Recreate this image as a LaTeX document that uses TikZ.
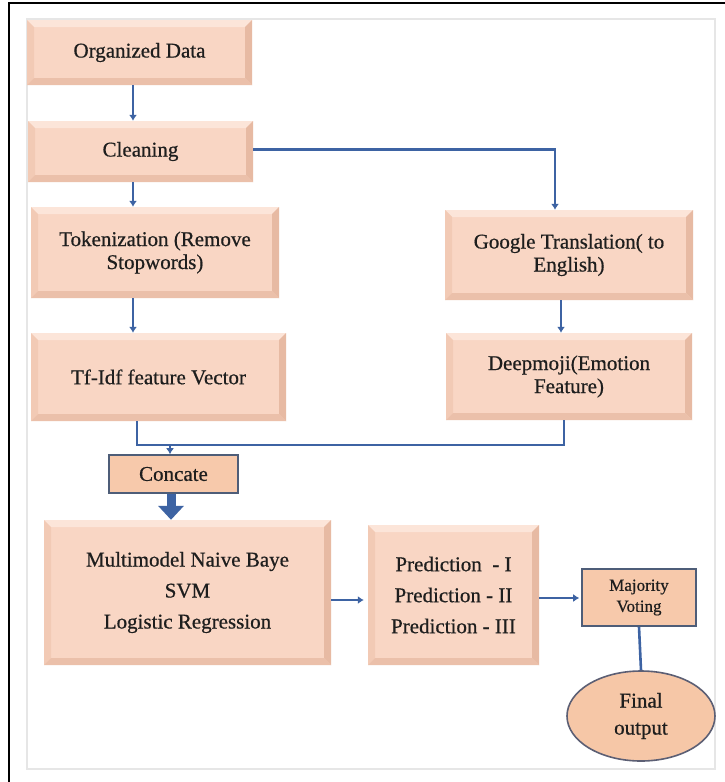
\documentclass[tikz,border=0pt]{standalone}
\usepackage{fontspec}
\setmainfont{Liberation Serif}
\newfontfamily\tnr{Liberation Serif}[FakeBold=0.6]
\usetikzlibrary{arrows.meta,shapes.geometric,calc}
\definecolor{peach}{HTML}{F9D6C4}
\definecolor{bvtop}{HTML}{FCE5D9}
\definecolor{bvleft}{HTML}{F2CAB5}
\definecolor{bvright}{HTML}{E7BAA3}
\definecolor{bvbot}{HTML}{EBC0AA}
\definecolor{flatfill}{HTML}{F7C9AB}
\definecolor{flatedge}{HTML}{4E5D78}
\definecolor{ellfill}{HTML}{F6C7A7}
\definecolor{elledge}{HTML}{5C5F74}
\definecolor{txt}{HTML}{1E1E1E}
\definecolor{conn}{HTML}{3D63A3}
\definecolor{faint}{HTML}{E6E6E6}
\newcommand{\bigtxt}{\tnr\fontsize{21}{23}\selectfont}
\tikzset{
  bev/.style={fill=peach, inner sep=0pt, align=center, font=\bigtxt, text=txt,
    path picture={
      \fill[bvtop] (path picture bounding box.north west) -- (path picture bounding box.north east)
        -- ([xshift=-7pt,yshift=-7pt]path picture bounding box.north east)
        -- ([xshift=7pt,yshift=-7pt]path picture bounding box.north west) -- cycle;
      \fill[bvleft] (path picture bounding box.north west) -- (path picture bounding box.south west)
        -- ([xshift=7pt,yshift=7pt]path picture bounding box.south west)
        -- ([xshift=7pt,yshift=-7pt]path picture bounding box.north west) -- cycle;
      \fill[bvright] (path picture bounding box.north east) -- (path picture bounding box.south east)
        -- ([xshift=-7pt,yshift=7pt]path picture bounding box.south east)
        -- ([xshift=-7pt,yshift=-7pt]path picture bounding box.north east) -- cycle;
      \fill[bvbot] (path picture bounding box.south west) -- (path picture bounding box.south east)
        -- ([xshift=-7pt,yshift=7pt]path picture bounding box.south east)
        -- ([xshift=7pt,yshift=7pt]path picture bounding box.south west) -- cycle;
    }},
  flatbox/.style={fill=flatfill, draw=flatedge, line width=1.6pt, inner sep=0pt, align=center, text=txt},
  finalell/.style={ellipse, fill=ellfill, draw=elledge, line width=1.6pt, inner sep=0pt, align=center, text=txt,
    font=\tnr\fontsize{21}{27}\selectfont},
  conline/.style={draw=conn, line width=2.6pt},
  arr/.style={conline, -{Latex[length=6pt,width=8pt]}},
  bigarr/.style={draw=conn, line width=9pt, -{Triangle[length=14pt,width=25pt]}}
}
\begin{document}
\begin{tikzpicture}[x=1pt,y=-1pt]
\useasboundingbox (0,0) rectangle (725,782);
\fill[white] (0,0) rectangle (725,782);
% frame
\draw[faint, line width=1.5pt] (27,19) rectangle (715,769);
\draw[black, line width=2pt] (9,782) -- (9,3) -- (725,3);

% nodes
\node[bev, minimum width=225pt, minimum height=65pt] (org) at (139.5,52.5) {Organized Data};
\node[bev, minimum width=225pt, minimum height=61pt] (clean) at (140.5,151.5) {Cleaning};
\node[bev, minimum width=248pt, minimum height=91pt] (tok) at (155,252.5) {Tokenization (Remove\\Stopwords)};
\node[bev, minimum width=248pt, minimum height=90pt] (goog) at (569,255) {Google Translation( to\\English)};
\node[bev, minimum width=255pt, minimum height=88pt] (tfidf) at (158.5,377) {Tf-Idf feature Vector};
\node[bev, minimum width=246pt, minimum height=87pt] (deep) at (569,376.5) {Deepmoji(Emotion\\Feature)};
\node[flatbox, font=\bigtxt, minimum width=129pt, minimum height=38pt] (concate) at (173.5,474) {Concate};
\node[bev, font=\tnr\fontsize{21}{31}\selectfont, minimum width=287pt, minimum height=145pt] (multi) at (187.5,592.5) {Multimodel Naive Baye\\SVM\\Logistic Regression};
\node[bev, font=\tnr\fontsize{21}{31}\selectfont, minimum width=171pt, minimum height=140pt] (pred) at (453.5,595) {Prediction\ \ - I\\Prediction - II\\Prediction - III};
\node[flatbox, font=\tnr\fontsize{17}{21}\selectfont, minimum width=114pt, minimum height=57pt] (maj) at (639,597.5) {Majority\\Voting};
\node[finalell, minimum width=148pt, minimum height=90pt] (final) at (641,716) {Final\\output};
\coordinate (jn) at (170,445);

% connectors
\draw[arr] ([xshift=-6.5pt]org.south) -- ([xshift=-6.5pt]org.south |- clean.north);
\draw[arr] ([xshift=-7.5pt]clean.south) -- ([xshift=-7.5pt]clean.south |- tok.north);
\draw[arr] ([yshift=2pt]clean.east) -| ([xshift=-14pt]goog.north);
\draw[arr] ([xshift=-22pt]tok.south) -- ([xshift=-22pt]tok.south |- tfidf.north);
\draw[arr] ([xshift=-8pt]goog.south) -- ([xshift=-8pt]goog.south |- deep.north);
\draw[conline] ([xshift=-21.5pt]tfidf.south) |- (jn) -| ([xshift=-5pt]deep.south);
\draw[arr] (jn) -- (jn |- concate.north);
\draw[bigarr] ([xshift=-2.5pt]concate.south) -- ([xshift=-2.5pt]concate.south |- multi.north);
\draw[arr, shorten >=4pt] ([yshift=-7.5pt]multi.east) -- ([yshift=-7.5pt]multi.east -| pred.west);
\draw[arr, shorten >=2pt] ([yshift=-3pt]pred.east) -- ([yshift=-3pt]pred.east -| maj.west);
\draw[conline] (maj.south) -- (final.north);
\end{tikzpicture}
\end{document}
